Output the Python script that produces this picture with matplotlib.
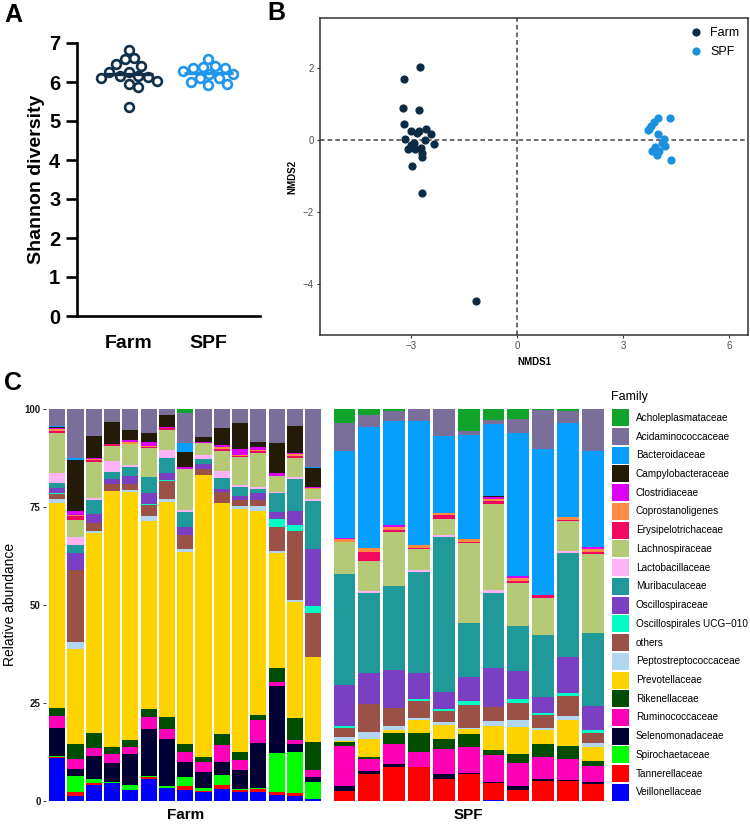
import numpy as np
import matplotlib
matplotlib.use("Agg")
import matplotlib.pyplot as plt
from matplotlib.patches import Rectangle

plt.rcParams['font.family'] = ['Liberation Sans', 'DejaVu Sans']

# ---- data -------------------------------------------------------------
groups = ["Farm", "SPF"]

# panel A: Shannon diversity per mouse
shannon_farm = [6.83, 6.62, 6.58, 6.45, 6.42, 6.26, 6.26, 6.15, 6.13, 6.15,
                6.11, 6.02, 5.96, 5.86, 5.36]
shannon_spf = [6.60, 6.41, 6.39, 6.35, 6.35, 6.28, 6.20, 6.20, 6.11, 6.11,
               6.00, 5.96, 5.93]

# panel B: NMDS coordinates
nmds_farm_x = [-2.74, -3.19, -3.24, -2.78, -3.19, -3.00, -2.79, -2.83, -2.57,
               -2.43, -3.18, -2.61, -2.93, -3.00, -2.36, -3.09, -2.88, -2.71,
               -2.68, -2.68, -2.97, -2.68, -1.15]
nmds_farm_y = [2.04, 1.69, 0.90, 0.82, 0.44, 0.25, 0.25, 0.19, 0.30, 0.17,
               0.04, -0.01, -0.09, -0.15, -0.11, -0.26, -0.24, -0.21, -0.35,
               -0.48, -0.72, -1.48, -4.48]
nmds_spf_x = [4.00, 4.34, 3.87, 3.80, 3.73, 3.70, 4.00, 4.16, 4.11, 4.18,
              3.90, 3.82, 4.01, 3.97, 4.36]
nmds_spf_y = [0.61, 0.61, 0.51, 0.39, 0.31, 0.28, 0.18, 0.04, -0.09, -0.16,
              -0.19, -0.32, -0.32, -0.43, -0.55]

# panel C: relative abundance (%) per sample, families in legend order
families = ["Acholeplasmataceae", "Acidaminococcaceae", "Bacteroidaceae",
            "Campylobacteraceae", "Clostridiaceae", "Coprostanoligenes",
            "Erysipelotrichaceae", "Lachnospiraceae", "Lactobacillaceae",
            "Muribaculaceae", "Oscillospiraceae", "Oscillospirales UCG\u2212010",
            "others", "Peptostreptococcaceae", "Prevotellaceae", "Rikenellaceae",
            "Ruminococcaceae", "Selenomonadaceae", "Spirochaetaceae",
            "Tannerellaceae", "Veillonellaceae"]
family_colors = ["#10A52A", "#7A6F9B", "#069FFF", "#231B08", "#DC00F5",
                 "#FF8C42", "#F2075E", "#B5CA77", "#FFB3F7", "#20999A",
                 "#7A3FC2", "#00FFC5", "#9B5145", "#B3D6F0", "#FFD300",
                 "#004D00", "#FF00B9", "#000033", "#00FF00", "#FF0000",
                 "#0000FF"]

farm_abund = [
    [0, 4.3, 0.2, 0.3, 0.4, 0.5, 0.3, 10.4, 2.4, 1.3, 1.4, 0.1, 1.3, 1.0, 52.3, 2.1, 3.0, 7.2, 0.3, 0.3, 10.9],
    [0, 12.6, 0.6, 13.0, 1.1, 0.2, 1.1, 4.2, 2.0, 2.1, 4.3, 0, 18.5, 2.0, 24.2, 3.8, 2.7, 1.8, 4.1, 1.1, 1.2],
    [0, 6.9, 0, 5.5, 0.3, 0.4, 0.3, 9.2, 0.6, 3.6, 2.4, 0, 1.9, 0.6, 51.0, 3.9, 1.9, 5.9, 1.1, 0.5, 4.0],
    [0, 3.4, 0, 5.4, 0, 0, 0.5, 3.9, 2.8, 1.7, 1.5, 0, 1.7, 0, 65.2, 1.8, 2.3, 4.8, 0.1, 0, 4.7],
    [0, 5.5, 0, 2.4, 0.7, 0.4, 0, 5.4, 0.4, 2.3, 2.1, 0, 1.6, 0.6, 63.7, 1.6, 1.8, 8.1, 1.3, 0, 2.8],
    [0, 6.0, 0, 2.3, 1.1, 0.3, 0.3, 7.4, 0, 4.1, 2.7, 0.2, 2.8, 1.3, 47.8, 2.1, 3.0, 12.0, 0.4, 0.5, 5.5],
    [0, 1.5, 0, 3.0, 0.4, 0, 0.4, 5.1, 2.1, 3.8, 1.9, 0.2, 4.5, 0.7, 54.9, 3.2, 2.5, 12.0, 0.4, 0, 3.4],
    [1.1, 7.5, 2.3, 3.8, 0.6, 0, 0, 10.5, 0.6, 3.8, 1.9, 0, 3.7, 0.6, 49.1, 1.9, 2.6, 4.0, 2.3, 1.0, 2.7],
    [0, 7.1, 0, 1.2, 0.4, 0, 0, 3.0, 1.0, 1.2, 1.3, 0, 1.5, 0, 71.9, 1.2, 2.6, 4.2, 0.6, 0.3, 2.3],
    [0, 4.9, 0, 4.3, 0.4, 0.6, 0.4, 5.1, 2.0, 2.7, 0.7, 0.1, 2.9, 0, 58.8, 2.9, 4.2, 3.3, 2.7, 1.0, 3.0],
    [0, 3.5, 0, 6.7, 1.4, 0.3, 0.3, 7.2, 0.4, 2.4, 1.0, 0, 1.5, 0.8, 61.8, 1.9, 2.6, 4.9, 0.3, 0.5, 2.2],
    [0, 8.3, 0, 1.5, 0.7, 0.3, 0.3, 8.9, 0.3, 1.2, 1.7, 0, 1.6, 1.1, 52.1, 1.3, 5.7, 11.5, 0.4, 0.6, 2.4],
    [0, 8.8, 0, 7.4, 0.8, 0, 0, 4.1, 0.4, 4.7, 1.9, 1.9, 6.1, 0.7, 29.2, 3.6, 1.0, 17.1, 9.9, 0.9, 1.5],
    [0, 4.3, 0, 7.0, 0.3, 0.5, 0.3, 5.0, 0.4, 8.1, 3.7, 1.5, 17.6, 0.5, 29.7, 5.5, 1.1, 1.9, 10.5, 0.9, 1.2],
    [0, 14.9, 0.2, 4.7, 0.3, 0.2, 0.2, 2.5, 0.4, 12.4, 14.4, 1.8, 11.2, 0, 21.8, 7.1, 1.9, 1.1, 4.3, 0, 0.6],
]
spf_abund = [
    [3.5, 7.2, 22.1, 0, 0.4, 0.8, 0, 8.1, 0, 28.3, 10.5, 0.3, 2.4, 1.0, 0.3, 0.9, 10.3, 1.2, 0, 2.6, 0],
    [1.5, 3.0, 31.0, 0, 0, 1.1, 2.1, 7.9, 0.3, 20.4, 8.0, 0, 7.1, 1.8, 4.7, 0.6, 3.0, 0.6, 0, 7.0, 0],
    [0.5, 2.5, 26.6, 0, 0.7, 0.6, 0.7, 13.8, 0, 21.5, 9.6, 0.2, 4.5, 0.9, 1.0, 2.6, 5.3, 0.7, 0, 8.7, 0],
    [0, 3.0, 31.7, 0, 0, 0.7, 0.4, 5.3, 0.4, 25.8, 6.8, 0.5, 4.3, 0.4, 3.3, 4.8, 3.8, 0, 0, 8.8, 0],
    [0, 6.8, 19.6, 0, 0, 0.7, 0.8, 4.2, 0.4, 39.5, 4.5, 0.4, 2.8, 0.8, 3.4, 2.6, 6.3, 1.5, 0, 5.5, 0],
    [5.6, 1.0, 26.6, 0, 0, 0.7, 0.2, 20.6, 0, 13.6, 6.1, 1.1, 6.0, 0.2, 1.2, 3.4, 6.5, 0.4, 0, 6.8, 0],
    [2.8, 0.9, 18.5, 0.2, 0.6, 0.4, 0.8, 22.1, 0.6, 19.2, 9.8, 0.2, 3.5, 1.3, 6.0, 1.3, 7.0, 0.3, 0, 4.2, 0.3],
    [2.6, 3.6, 36.4, 0, 0.4, 0.9, 0.6, 10.9, 0, 11.4, 7.3, 0.8, 4.4, 1.9, 6.8, 2.4, 5.7, 1.1, 0, 2.8, 0],
    [0.3, 10.0, 37.1, 0, 0, 0, 0.6, 9.5, 0, 15.9, 3.9, 0.6, 3.4, 0.3, 3.7, 3.4, 5.6, 0.4, 0, 5.1, 0],
    [0.4, 3.2, 24.0, 0, 0, 0.6, 0.3, 7.8, 0.4, 26.4, 9.3, 0.7, 5.1, 1.0, 6.8, 3.2, 5.3, 0.4, 0, 5.0, 0],
    [0, 10.6, 24.7, 0, 0.5, 0.6, 0.7, 20.1, 0, 18.6, 6.2, 0.7, 2.6, 0.8, 3.6, 1.4, 4.0, 0.6, 0, 4.3, 0],
]

farm_dark = "#11304B"
spf_blue = "#2196EE"

W, H = 750, 826
fig = plt.figure(figsize=(W / 100, H / 100), dpi=100)


def box(left, top, right, bottom):
    # pixel box -> figure fraction rect
    return [left / W, 1 - bottom / H, (right - left) / W, (bottom - top) / H]


def swarm(values, diam_px, px_x, px_y):
    # simple beeswarm: put each point at the smallest offset that does not overlap
    order = np.argsort(values)[::-1]
    placed = []
    offsets = np.zeros(len(values))
    for i in order:
        y = values[i] * px_y
        cands = [0.0]
        for (xj, yj) in placed:
            dy = abs(y - yj)
            if dy < diam_px:
                dx = np.sqrt(diam_px ** 2 - dy ** 2)
                cands += [xj + dx, xj - dx]
        cands.sort(key=abs)
        for c in cands:
            ok = all((c - xj) ** 2 + (y - yj) ** 2 >= diam_px ** 2 - 1e-6 for xj, yj in placed)
            if ok:
                break
        placed.append((c, y))
        offsets[i] = c / px_x
    return offsets


# ---- A: Shannon diversity ---------------------------------------------
axA = fig.add_axes(box(77, 43, 260, 316))
axA.set_xlim(-0.65, 1.65)
axA.set_ylim(0, 7)
px_x = 183 / 2.3
px_y = 273 / 7
for k, (vals, col) in enumerate([(shannon_farm, farm_dark), (shannon_spf, spf_blue)]):
    vals = np.array(vals)
    xs = k + swarm(vals, 10.0, px_x, px_y)
    m = vals.mean()
    axA.scatter(xs, vals, s=40, facecolor='white', edgecolor=col,
                linewidth=1.9, zorder=3, clip_on=False)
    axA.plot([k - 0.31, k + 0.31], [m, m], color=col, lw=2.4, zorder=4,
             solid_capstyle='butt')
for s in ['top', 'right']:
    axA.spines[s].set_visible(False)
for s in ['left', 'bottom']:
    axA.spines[s].set_linewidth(1.9)
axA.set_yticks(range(0, 8))
axA.tick_params(axis='y', length=8, width=1.9, labelsize=14.5, pad=4)
axA.set_xticks([0, 1])
axA.set_xticklabels(groups)
axA.tick_params(axis='x', length=0, labelsize=14, pad=14)
for lab in axA.get_xticklabels() + axA.get_yticklabels():
    lab.set_fontweight('bold')
axA.set_ylabel("Shannon diversity", fontsize=14, fontweight='bold', labelpad=3)

# ---- B: NMDS ------------------------------------------------------------
axB = fig.add_axes(box(320, 18, 748, 335))
axB.set_xlim(-5.58, 6.54)
axB.set_ylim(-5.42, 3.39)
axB.axvline(0, color='#444444', lw=1.1, ls=(0, (3, 2)), zorder=1)
axB.axhline(0, color='#444444', lw=1.1, ls=(0, (3, 2)), zorder=1)
axB.scatter(nmds_farm_x, nmds_farm_y, s=24, color="#0B2B45", label="Farm", zorder=3)
axB.scatter(nmds_spf_x, nmds_spf_y, s=24, color="#1A90DE", label="SPF", zorder=3)
axB.set_xticks([-3, 0, 3, 6])
axB.set_yticks([-4, -2, 0, 2])
axB.tick_params(length=2.5, width=0.8, color='#333333', labelsize=7,
                labelcolor='#4D4D4D', pad=2)
for s in axB.spines.values():
    s.set_color('#333333')
    s.set_linewidth(1.1)
axB.set_xlabel("NMDS1", fontsize=7, fontweight='bold', labelpad=4)
axB.set_ylabel("NMDS2", fontsize=7, fontweight='bold', labelpad=4)
axB.legend(loc='upper right', frameon=False, fontsize=9, handletextpad=0.1,
           markerscale=1.0, borderaxespad=0.3, labelspacing=0.55)

# ---- C: relative abundance ---------------------------------------------
panel_boxes = [box(46.2, 409, 324.2, 801), box(329.6, 409, 607.6, 801)]
for k, (data, name) in enumerate([(farm_abund, "Farm"), (spf_abund, "SPF")]):
    ax = fig.add_axes(panel_boxes[k])
    arr = np.array(data, dtype=float)
    arr = arr / arr.sum(axis=1, keepdims=True) * 100
    x = np.arange(arr.shape[0])
    bottom = np.zeros(arr.shape[0])
    for j in range(len(families) - 1, -1, -1):
        ax.bar(x, arr[:, j], bottom=bottom, width=0.88, color=family_colors[j],
               linewidth=0)
        bottom += arr[:, j]
    ax.set_xlim(-0.6, arr.shape[0] - 0.4)
    ax.set_ylim(0, 100)
    for s in ax.spines.values():
        s.set_visible(False)
    ax.set_xticks([])
    if k == 0:
        ax.set_yticks([0, 25, 50, 75, 100])
        ax.tick_params(axis='y', length=2.5, width=0.7, color='#333333',
                       labelsize=7, labelcolor='#1A1A1A', pad=1.5)
        for lab in ax.get_yticklabels():
            lab.set_fontweight('bold')
    else:
        ax.set_yticks([])
    ax.text(0.5, -14 / 392, name, transform=ax.transAxes, ha='center',
            va='center', fontsize=11, fontweight='bold')

fig.text(10 / W, 1 - 604 / H, "Relative abundance", rotation=90, ha='center',
         va='center', fontsize=10)

# legend for panel C, laid out in pixel units
leg = fig.add_axes([0, 0, 1, 1])
leg.set_xlim(0, W)
leg.set_ylim(H, 0)
leg.axis('off')
leg.text(611, 397, "Family", fontsize=9, ha='left', va='center')
for i, (fam, col) in enumerate(zip(families, family_colors)):
    top = 409.3 + 18.73 * i
    leg.add_patch(Rectangle((612, top), 17, 17, facecolor=col, edgecolor='none'))
    leg.text(636, top + 8.5, fam, fontsize=7.2, ha='left', va='center')

# panel letters
fig.text(13 / W, 1 - 15 / H, "A", fontsize=18, fontweight='bold', ha='center', va='center')
fig.text(276 / W, 1 - 13 / H, "B", fontsize=18, fontweight='bold', ha='center', va='center')
fig.text(13 / W, 1 - 383 / H, "C", fontsize=18, fontweight='bold', ha='center', va='center')

fig.savefig("out.png", dpi=100)
